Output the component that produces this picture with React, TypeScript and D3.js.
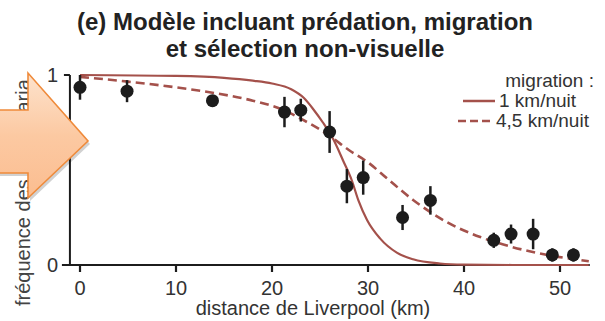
import React from "react";
import * as d3 from "d3";

// observed points (distance km, frequency, half error bar)
const obsKm = [0, 4.9, 13.8, 21.3, 23, 26, 27.8, 29.5, 33.6, 36.5, 43.1, 44.9, 47.2, 49.2, 51.4];
const obsFreq = [0.935, 0.915, 0.865, 0.805, 0.815, 0.7, 0.415, 0.46, 0.25, 0.34, 0.13, 0.163, 0.163, 0.053, 0.053];
const obsErr = [0.065, 0.058, 0.03, 0.08, 0.06, 0.11, 0.09, 0.09, 0.066, 0.075, 0.04, 0.05, 0.08, 0.035, 0.035];

// model, 1 km/nuit (solid)
const slowKm = [0, 10, 15, 18, 20, 22, 23.3, 24.3, 25.3, 26.4, 27.4, 28.3, 29, 29.9, 31.25, 33, 34.7, 37.5, 40, 45, 53];
const slowFreq = [1, 0.995, 0.985, 0.97, 0.955, 0.925, 0.88, 0.82, 0.75, 0.66, 0.55, 0.447, 0.34, 0.237, 0.14, 0.065, 0.03, 0.008, 0.002, 0, 0];

// model, 4,5 km/nuit (dashed)
const fastKm = [0, 5, 10, 14, 18, 21, 23, 26, 28, 30, 32, 34.7, 38.2, 41.7, 45, 49, 53];
const fastFreq = [0.99, 0.965, 0.935, 0.905, 0.865, 0.82, 0.77, 0.68, 0.605, 0.54, 0.455, 0.342, 0.226, 0.147, 0.095, 0.05, 0.02];

const xTicks = [0, 10, 20, 30, 40, 50];
const yTicks = [0, 1];

const title1 = "(e) Modèle incluant prédation, migration";
const title2 = "et sélection non-visuelle";
const xLabel = "distance de Liverpool (km)";
const yLabel = "fréquence des carbonaria";
const legendTitle = "migration :";
const legendItems = ["1 km/nuit", "4,5 km/nuit"];

const ink = "#1c1c1c";
const curveColor = "#a4514b";
const font = "'Liberation Sans', Arial, sans-serif";

export default function App() {
  const width = 605;
  const height = 321;

  const x = d3.scaleLinear().domain([0, 50]).range([80, 560]);
  const y = d3.scaleLinear().domain([0, 1]).range([265, 75]);

  const line = d3
    .line<[number, number]>()
    .x((d) => x(d[0]))
    .y((d) => y(d[1]))
    .curve(d3.curveMonotoneX);

  const slowPath = line(slowKm.map((k, i) => [k, slowFreq[i]]));
  const fastPath = line(fastKm.map((k, i) => [k, fastFreq[i]]));

  const axisLeft = x(-1.05);
  const axisRight = x(53.1);

  const arrow = "-6,110 28,110 28,73 88,141 28,198 28,173 -6,173";

  return (
    <svg
      width={width}
      height={height}
      style={{ position: "absolute", left: 0, top: 0, background: "#fff" }}
      fontFamily={font}
    >
      <defs>
        <linearGradient id="arrowFill" x1="0" y1="0" x2="0" y2="1">
          <stop offset="0" stopColor="#fde3cd" />
          <stop offset="0.5" stopColor="#fcc9a2" />
          <stop offset="1" stopColor="#fbbd90" />
        </linearGradient>
      </defs>

      <text x={305} y={30} textAnchor="middle" fontSize={24} fontWeight="bold" fill="#222">
        {title1}
      </text>
      <text x={305} y={57} textAnchor="middle" fontSize={24} fontWeight="bold" fill="#222">
        {title2}
      </text>

      {/* axes */}
      <line x1={axisLeft} x2={axisLeft} y1={y(1)} y2={y(0)} stroke={ink} strokeWidth={2} />
      <line x1={axisLeft - 6} x2={axisLeft} y1={y(1)} y2={y(1)} stroke={ink} strokeWidth={2} />
      <line x1={axisLeft - 8} x2={axisRight} y1={y(0)} y2={y(0)} stroke={ink} strokeWidth={2} />
      {xTicks.map((t) => (
        <g key={t}>
          <line x1={x(t)} x2={x(t)} y1={y(0)} y2={y(0) + 7} stroke={ink} strokeWidth={2.2} />
          <text x={x(t)} y={295} textAnchor="middle" fontSize={20} fill="#333">
            {t}
          </text>
        </g>
      ))}
      {yTicks.map((t) => (
        <text key={t} x={58} y={y(t) + 7} textAnchor="end" fontSize={20} fill="#333">
          {t}
        </text>
      ))}
      <text x={313} y={315} textAnchor="middle" fontSize={20} fill="#333">
        {xLabel}
      </text>
      <text transform="translate(30,306) rotate(-90)" fontSize={20} fill="#444">
        {yLabel}
      </text>

      {/* model curves */}
      <path d={slowPath ?? ""} fill="none" stroke={curveColor} strokeWidth={2.2} />
      <path
        d={fastPath ?? ""}
        fill="none"
        stroke={curveColor}
        strokeWidth={2.6}
        strokeDasharray="9,5"
      />

      {/* observations */}
      {obsKm.map((k, i) => (
        <g key={i}>
          <line
            x1={x(k)}
            x2={x(k)}
            y1={y(obsFreq[i] + obsErr[i])}
            y2={y(obsFreq[i] - obsErr[i])}
            stroke={ink}
            strokeWidth={2.5}
          />
          <circle cx={x(k)} cy={y(obsFreq[i])} r={6.5} fill={ink} />
        </g>
      ))}

      {/* legend */}
      <text x={594} y={87} textAnchor="end" fontSize={19} fill="#333">
        {legendTitle}
      </text>
      <line x1={463} x2={495} y1={101} y2={101} stroke={curveColor} strokeWidth={2.5} />
      <text x={499} y={107} fontSize={19} fill="#333">
        {legendItems[0]}
      </text>
      <line
        x1={458}
        x2={493}
        y1={121}
        y2={121}
        stroke={curveColor}
        strokeWidth={2.6}
        strokeDasharray="8,4"
      />
      <text x={496} y={127} fontSize={19} fill="#333">
        {legendItems[1]}
      </text>

      {/* overlay arrow */}
      <polygon points={arrow} transform="translate(2,3)" fill="#000" opacity={0.18} />
      <polygon points={arrow} fill="url(#arrowFill)" stroke="#ef8a3a" strokeWidth={1.6} />
    </svg>
  );
}
